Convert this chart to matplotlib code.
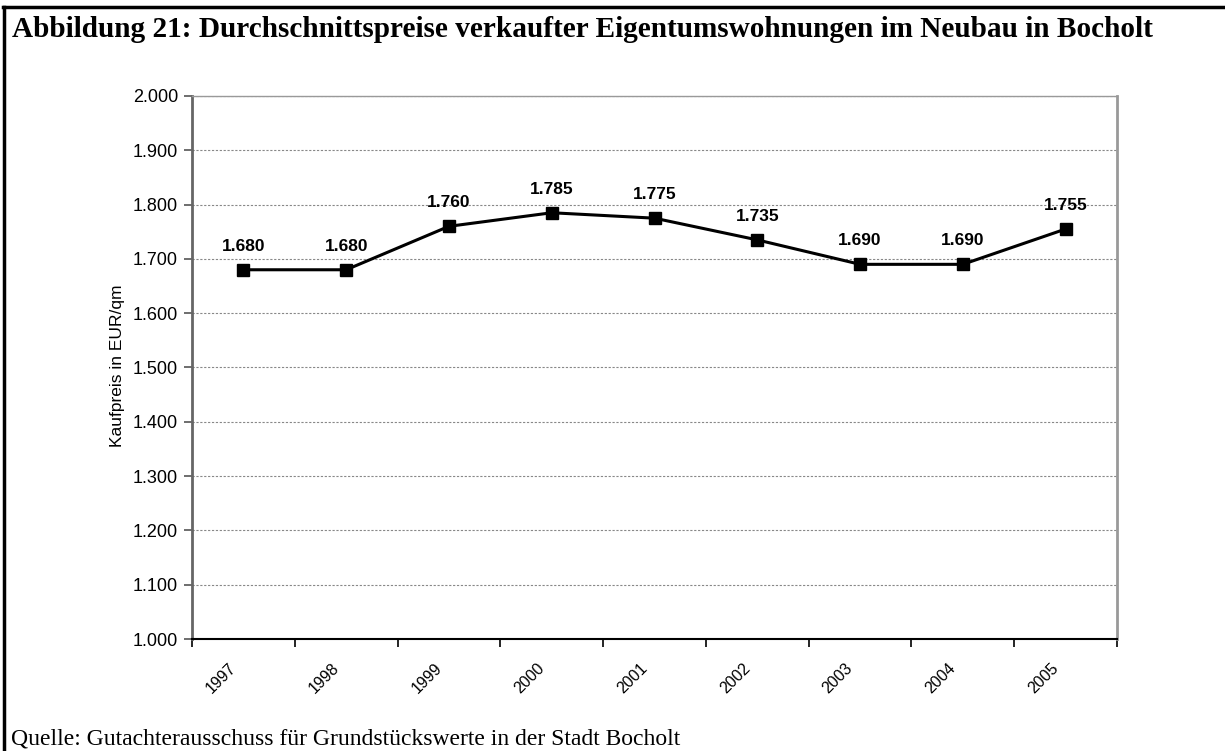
import matplotlib
matplotlib.use("Agg")
import matplotlib.pyplot as plt
from matplotlib.lines import Line2D

years = ["1997", "1998", "1999", "2000", "2001", "2002", "2003", "2004", "2005"]
prices = [1680, 1680, 1760, 1785, 1775, 1735, 1690, 1690, 1755]
price_labels = ["1.680", "1.680", "1.760", "1.785", "1.775", "1.735", "1.690", "1.690", "1.755"]
y_ticks = [1000, 1100, 1200, 1300, 1400, 1500, 1600, 1700, 1800, 1900, 2000]
y_tick_labels = ["1.000", "1.100", "1.200", "1.300", "1.400", "1.500", "1.600", "1.700", "1.800", "1.900", "2.000"]

title = "Abbildung 21: Durchschnittspreise verkaufter Eigentumswohnungen im Neubau in Bocholt"
source = "Quelle: Gutachterausschuss für Grundstückswerte in der Stadt Bocholt"
ylabel = "Kaufpreis in EUR/qm"

W, H = 1225, 751
fig = plt.figure(figsize=(W / 100, H / 100), dpi=100)
ax = fig.add_axes([192 / W, 1 - 639 / H, (1117 - 192) / W, (639 - 96) / H])

x = list(range(len(years)))
ax.plot(x, prices, color="black", lw=2.2, marker="s", ms=8.5, mfc="black", mec="black", zorder=3)

for xi, yi, lab in zip(x, prices, price_labels):
    ax.annotate(lab, xy=(xi, yi), xytext=(0, 17), textcoords="offset points",
                ha="center", va="center", fontsize=12.5, fontweight="bold",
                family="Liberation Sans", zorder=4)

ax.set_xlim(-0.5, len(years) - 0.5)
ax.set_ylim(1000, 2000)
ax.set_yticks(y_ticks)
ax.set_yticklabels(y_tick_labels, family="Liberation Sans", fontsize=13)
ax.tick_params(axis="y", direction="out", length=6, width=1.2, color="#555555", pad=4)

# category boundaries as ticks
ax.set_xticks([i - 0.5 for i in range(len(years) + 1)])
ax.set_xticklabels([])
ax.tick_params(axis="x", direction="out", length=6, width=1.2, color="black")

for xi, lab in zip(x, years):
    ax.annotate(lab, xy=(xi, 0), xycoords=("data", "axes fraction"),
                xytext=(-16, -28), textcoords="offset points",
                ha="center", va="center", rotation=45,
                fontsize=11.5, family="Liberation Sans")

ax.yaxis.grid(True, linestyle=(0, (2, 1.5)), color="#888888", lw=0.8)
ax.set_axisbelow(True)

ax.spines["left"].set_color("#666666")
ax.spines["left"].set_linewidth(2)
ax.spines["bottom"].set_color("black")
ax.spines["bottom"].set_linewidth(1.5)
ax.spines["right"].set_color("#999999")
ax.spines["right"].set_linewidth(2)
ax.spines["top"].set_color("#999999")
ax.spines["top"].set_linewidth(1)

fig.text(117.5 / W, 1 - 366 / H, ylabel, rotation=90, ha="center", va="center",
         fontsize=12.5, family="Liberation Sans")

fig.text(12 / W, 1 - 37 / H, title, ha="left", va="baseline", fontsize=21.1,
         fontweight="bold", family="Liberation Serif")
fig.text(11 / W, 1 - 744 / H, source, ha="left", va="baseline", fontsize=17,
         family="Liberation Serif")

# outer frame (top and left edges)
fig.add_artist(Line2D([3 / W, 1], [1 - 7 / H, 1 - 7 / H], transform=fig.transFigure, color="black", lw=2.5))
fig.add_artist(Line2D([4 / W, 4 / W], [0, 1 - 7 / H], transform=fig.transFigure, color="black", lw=2.5))

fig.savefig("out.png", dpi=100)
